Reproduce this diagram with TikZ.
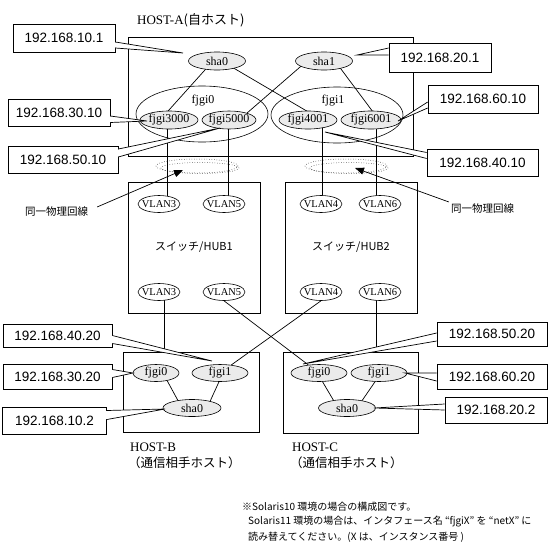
\documentclass[tikz,border=0pt]{standalone}
\usepackage{fontspec}
\setmainfont{Liberation Serif}
\newfontfamily\gothic{Liberation Sans}
\newfontfamily\jp{Noto Sans CJK JP}
\usetikzlibrary{shapes.geometric,arrows.meta,calc,backgrounds}
\definecolor{ifgray}{HTML}{EBEBEB}
\newcommand\zw[1]{\makebox[0pt]{#1}}
\newcommand\wedgeto[5]{%
  \fill[white] ($(#1.#2)+(0,#3)$) -- (#5) -- ($(#1.#2)+(0,#4)$) -- cycle;
  \draw[wire] ($(#1.#2)+(0,#3)$) -- (#5) -- ($(#1.#2)+(0,#4)$);
  \draw[white,line width=1.3pt] ($(#1.#2)+(0,#3+0.8)$) -- ($(#1.#2)+(0,#4-0.8)$);
}
\tikzset{
  wire/.style={draw=black, line width=0.7pt},
  frame/.style={draw, line width=0.8pt, inner sep=0pt},
  ifc/.style={ellipse, draw, fill=ifgray, line width=0.6pt, inner sep=0pt,
    minimum height=18pt, font=\fontsize{12}{13}\selectfont},
  grp/.style={ellipse, draw, line width=0.6pt, inner sep=0pt,
    minimum width=132pt, minimum height=56pt},
  vlan/.style={ellipse, draw, fill=white, line width=0.6pt, inner sep=0pt,
    minimum width=42pt, minimum height=17pt, font=\fontsize{10.5}{11}\selectfont},
  addr/.style={draw, fill=white, line width=0.7pt, inner sep=0pt,
    font=\gothic\fontsize{13.5}{14}\selectfont},
  phys/.style={ellipse, draw, dotted, line width=0.5pt, inner sep=0pt},
  jpnote/.style={font=\jp\fontsize{10}{12}\selectfont, inner sep=0pt, anchor=west},
  hostlbl/.style={font=\fontsize{13}{14}\selectfont, inner sep=0pt, anchor=west},
  txt/.style={inner sep=0pt, font=\fontsize{12}{13}\selectfont},
}
\begin{document}
\begin{tikzpicture}[x=1pt,y=-1pt]
\useasboundingbox (0,0) rectangle (551,544);

% ---------- HOST-A ----------
\node[hostlbl] (hostalbl) at (137,20) {HOST-A{\jp\fontsize{13}{14}\selectfont(自ホスト)}};
\node[frame, minimum width=285pt, minimum height=119pt] (hosta) at (270.5,96.5) {};

\node[grp] (g0) at (202,114) {};
\node[grp] (g1) at (337,115) {};
\node[txt] (g0lbl) at (203,101) {fjgi0};
\node[txt] (g1lbl) at (333,101) {fjgi1};

\node[ifc, minimum width=57pt] (sha0) at (217,61) {\zw{sha0}};
\node[ifc, minimum width=57pt] (sha1) at (324,61) {\zw{sha1}};
\node[ifc, minimum width=58pt] (f3000) at (169,120) {\zw{fjgi3000}};
\node[ifc, minimum width=54pt] (f5000) at (229,120) {\zw{fjgi5000}};
\node[ifc, minimum width=58pt] (f4001) at (308,120) {\zw{fjgi4001}};
\node[ifc, minimum width=60pt] (f6001) at (371,120) {\zw{fjgi6001}};

% physical line markers
\node[phys, minimum width=82pt, minimum height=14pt] (p1a) at (197,166) {};
\node[phys, minimum width=78pt, minimum height=11pt] (p1b) at (200,168) {};
\node[phys, minimum width=82pt, minimum height=14pt] (p2a) at (346,166) {};
\node[phys, minimum width=78pt, minimum height=11pt] (p2b) at (349,168) {};

% ---------- switches ----------
\node[frame, minimum width=132pt, minimum height=131pt,
  font=\jp\fontsize{11}{12}\selectfont] (hub1) at (194,247.5) {スイッチ/HUB1};
\node[frame, minimum width=132pt, minimum height=131pt,
  font=\jp\fontsize{11}{12}\selectfont] (hub2) at (351,247.5) {スイッチ/HUB2};

\node[vlan] (v3t) at (159,204) {\zw{VLAN3}};
\node[vlan] (v5t) at (224,204) {\zw{VLAN5}};
\node[vlan] (v4t) at (321,204) {\zw{VLAN4}};
\node[vlan] (v6t) at (380,204) {\zw{VLAN6}};
\node[vlan] (v3b) at (159,292) {\zw{VLAN3}};
\node[vlan] (v5b) at (224,292) {\zw{VLAN5}};
\node[vlan] (v4b) at (321,292) {\zw{VLAN4}};
\node[vlan] (v6b) at (380,292) {\zw{VLAN6}};

% ---------- HOST-B / HOST-C ----------
\node[frame, minimum width=136pt, minimum height=80pt] (hostb) at (191,392) {};
\node[frame, minimum width=135pt, minimum height=81pt] (hostc) at (350.5,392.5) {};

\node[ifc, minimum width=46pt, minimum height=17pt] (hb0) at (156,373) {\zw{fjgi0}};
\node[ifc, minimum width=56pt, minimum height=17pt] (hb1) at (220,373) {\zw{fjgi1}};
\node[ifc, minimum width=58pt, minimum height=17pt] (hbs) at (192,408) {\zw{sha0}};
\node[ifc, minimum width=56pt, minimum height=17pt] (hc0) at (319,373) {\zw{fjgi0}};
\node[ifc, minimum width=56pt, minimum height=17pt] (hc1) at (379,373) {\zw{fjgi1}};
\node[ifc, minimum width=57pt, minimum height=17pt] (hcs) at (347,408) {\zw{sha0}};

\node[hostlbl] (hblbl1) at (130,447) {HOST-B};
\node[hostlbl, font=\jp\fontsize{12.5}{13}\selectfont] (hblbl2) at (128,463) {（通信相手ホスト）};
\node[hostlbl] (hclbl1) at (292,447) {HOST-C};
\node[hostlbl, font=\jp\fontsize{12.5}{13}\selectfont] (hclbl2) at (290,463) {（通信相手ホスト）};

% ---------- connectors (behind the nodes) ----------
\begin{scope}[on background layer]
  \draw[wire] ($(sha0)+(-4,0)$) -- ($(f3000)+(-9,0)$);
  \draw[wire] ($(sha0)+(4.6,0)$) -- ($(f4001)+(14,0)$);
  \draw[wire] ($(sha1)+(-17,0)$) -- ($(f5000)+(10,0)$);
  \draw[wire] ($(sha1)+(11,0)$) -- ($(f6001)+(8,0)$);
  \draw[wire] (167,0 |- f3000) -- (167,0 |- v3t);
  \draw[wire] (228,0 |- f5000) -- (228,0 |- v5t);
  \draw[wire] (322,0 |- f4001) -- (322,0 |- v4t);
  \draw[wire] (376,0 |- f6001) -- (376,0 |- v6t);
  \draw[wire] (164,0 |- v3b) -- (164,0 |- hostb.north);
  \draw[wire] (376,0 |- v6b) -- (376,0 |- hostc.north);
  \draw[wire] (v5b.south) -- (hc0);
  \draw[wire] (v4b.south) -- (hb1);
  \draw[wire] ($(hb0)+(7,0)$) -- ($(hbs)+(-10,0)$);
  \draw[wire] ($(hb1)+(3,0)$) -- ($(hbs)+(15,0)$);
  \draw[wire] ($(hc0)+(-1.6,0)$) -- ($(hcs)+(-9,0)$);
  \draw[wire] ($(hc1)+(2,0)$) -- ($(hcs)+(10,0)$);
\end{scope}

% ---------- same physical line ----------
\node[inner sep=0pt, font=\jp\fontsize{10.5}{12}\selectfont] (same1) at (56.5,212) {同一物理回線};
\node[inner sep=0pt, font=\jp\fontsize{10.5}{12}\selectfont] (same2) at (482.5,209) {同一物理回線};
\coordinate (arr1) at (183,170);
\coordinate (arr2) at (355,168);
\draw[wire, -{Triangle[length=9pt,width=7pt]}] ($(same1.north east)+(9,0)$) -- (arr1);
\draw[wire, -{Triangle[length=9pt,width=7pt]}] ($(same2.north west)+(-2,-2)$) -- (arr2);

% ---------- address callouts ----------
\coordinate (t1) at (183,53);
\coordinate (t2) at (357,55);
\coordinate (t3) at (147,121);
\coordinate (t4) at (220,128);
\coordinate (t5) at (398,121);
\coordinate (t6) at (325,132);
\coordinate (t7) at (212,361);
\coordinate (t8) at (133,373);
\coordinate (t9) at (165,409);
\coordinate (t10) at (303,364);
\coordinate (t11) at (405,373);
\coordinate (t12) at (374,408);

\node[addr, minimum width=102pt, minimum height=28pt] (c1) at (64,38) {192.168.10.1};
\node[addr, minimum width=102pt, minimum height=29pt] (c2) at (440,57.5) {192.168.20.1};
\node[addr, minimum width=102pt, minimum height=27pt] (c3) at (59,112.5) {192.168.30.10};
\node[addr, minimum width=110pt, minimum height=27pt] (c4) at (63,159.5) {192.168.50.10};
\node[addr, minimum width=110pt, minimum height=28pt] (c5) at (483,99) {192.168.60.10};
\node[addr, minimum width=111pt, minimum height=27pt] (c6) at (482.5,162.5) {192.168.40.10};
\node[addr, minimum width=109pt, minimum height=23pt] (c7) at (57.5,335.5) {192.168.40.20};
\node[addr, minimum width=109pt, minimum height=25pt] (c8) at (57.5,376.5) {192.168.30.20};
\node[addr, minimum width=104pt, minimum height=27pt] (c9) at (54.5,420.5) {192.168.10.2};
\node[addr, minimum width=110pt, minimum height=24pt] (c10) at (492,334) {192.168.50.20};
\node[addr, minimum width=110pt, minimum height=25pt] (c11) at (492,376.5) {192.168.60.20};
\node[addr, minimum width=102pt, minimum height=26pt] (c12) at (496,410) {192.168.20.2};

\wedgeto{c1}{east}{4}{10}{t1}
\wedgeto{c2}{west}{-9.5}{-2.5}{t2}
\wedgeto{c3}{east}{3.5}{10}{t3}
\wedgeto{c4}{east}{-10.5}{-2.5}{t4}
\wedgeto{c5}{west}{3}{9}{t5}
\wedgeto{c6}{west}{-10}{-4}{t6}
\wedgeto{c7}{east}{0}{8}{t7}
\wedgeto{c8}{east}{-7}{1}{t8}
\wedgeto{c9}{east}{-10}{-1}{t9}
\wedgeto{c10}{west}{-1}{7}{t10}
\wedgeto{c11}{west}{-3.5}{4.5}{t11}
\wedgeto{c12}{west}{-6}{0}{t12}

% ---------- footnote ----------
\node[jpnote] (n1) at (242,507) {※Solaris10 環境の場合の構成図です。};
\node[jpnote] (n2) at (248,522) {Solaris11 環境の場合は、インタフェース名 “fjgiX” を “netX” に};
\node[jpnote] (n3) at (248,537) {読み替えてください。(X は、インスタンス番号 )};
\end{tikzpicture}
\end{document}
